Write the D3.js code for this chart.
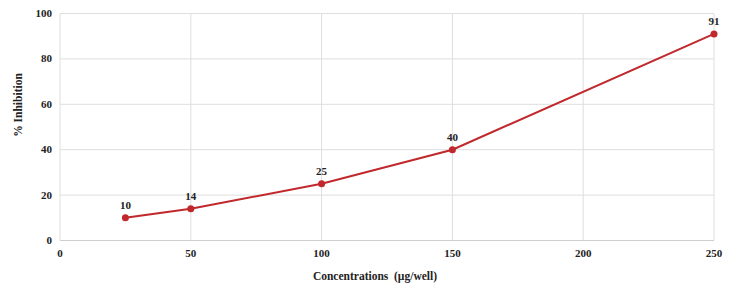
<!DOCTYPE html>
<html><head><meta charset="utf-8">
<script src="https://cdn.jsdelivr.net/npm/d3@7"></script>
<style>body{margin:0;background:#fff}svg{display:block}</style>
</head><body>
<svg id="c" width="750" height="296" font-family="'Liberation Serif', 'Times New Roman', Tinos, 'DejaVu Serif', serif" font-weight="bold"></svg>
<script>
const concentrations = [25, 50, 100, 150, 250];
const inhibition = [10, 14, 25, 40, 91];
const xTicks = [0, 50, 100, 150, 200, 250];
const yTicks = [0, 20, 40, 60, 80, 100];

const svg = d3.select("#c");
const x = d3.scaleLinear().domain([0, 250]).range([60, 714]);
const y = d3.scaleLinear().domain([0, 100]).range([240.5, 13.5]);

const g = svg.append("g");
g.selectAll(".hg").data(yTicks.slice(1)).join("line")
  .attr("x1", x(0)).attr("x2", x(250)).attr("y1", d => y(d)).attr("y2", d => y(d))
  .attr("stroke", "#dedede").attr("stroke-width", 1);
g.selectAll(".vg").data(xTicks).join("line")
  .attr("x1", d => x(d)).attr("x2", d => x(d)).attr("y1", y(0)).attr("y2", y(100))
  .attr("stroke", "#dedede").attr("stroke-width", 1);
g.append("line").attr("x1", x(0)).attr("x2", x(250)).attr("y1", y(0)).attr("y2", y(0))
  .attr("stroke", "#cfcfcf").attr("stroke-width", 1.2);

const tf = "#222";
svg.selectAll(".yt").data(yTicks).join("text")
  .attr("x", 52).attr("y", d => y(d) + 3.5).attr("text-anchor", "end").attr("fill", tf)
  .attr("font-size", 11).text(d => d);
svg.selectAll(".xt").data(xTicks).join("text")
  .attr("x", d => x(d)).attr("y", 257).attr("text-anchor", "middle").attr("fill", tf)
  .attr("font-size", 11).text(d => d);

svg.append("text").attr("x", 375).attr("y", 280).attr("text-anchor", "middle").attr("fill", tf)
  .attr("font-size", 11.5).style("white-space", "pre").text("Concentrations  (µg/well)");
svg.append("text").attr("transform", "translate(22,105) rotate(-90)").attr("text-anchor", "middle")
  .attr("fill", tf).attr("font-size", 11.5).text("% Inhibition");

const data = concentrations.map((c, i) => ({c, v: inhibition[i]}));
const line = d3.line().x(d => x(d.c)).y(d => y(d.v));
svg.append("path").datum(data).attr("d", line).attr("fill", "none")
  .attr("stroke", "#c0282c").attr("stroke-width", 2);
svg.selectAll(".pt").data(data).join("circle")
  .attr("cx", d => x(d.c)).attr("cy", d => y(d.v)).attr("r", 3.5).attr("fill", "#c0282c");
svg.selectAll(".lb").data(data).join("text")
  .attr("x", d => x(d.c)).attr("y", d => y(d.v) - 9).attr("text-anchor", "middle").attr("fill", tf)
  .attr("font-size", 11).text(d => d.v);
</script>
</body></html>
